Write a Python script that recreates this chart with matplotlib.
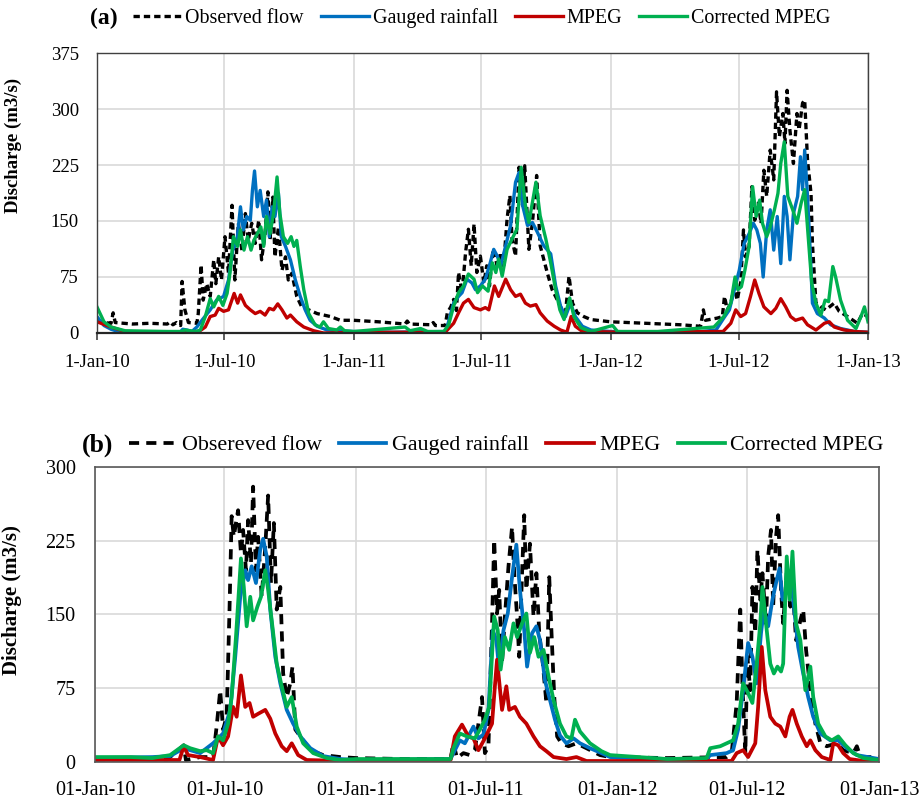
import numpy as np
import matplotlib
matplotlib.use("Agg")
import matplotlib.pyplot as plt

plt.rcParams['font.family'] = ['Liberation Serif', 'DejaVu Serif']

# ---------------- datos (dias desde 1-Jan-2010, caudal m3/s) ----------------
inicio = np.datetime64('2010-01-01')

# Panel (a)
obs_a_dia = [0, 10, 20, 23, 26, 50, 75, 100, 104, 108,
             113, 119, 121, 125, 130, 142, 144, 148, 151, 156,
             161, 166, 169, 173, 177, 182, 187, 192, 196, 201,
             206, 211, 215, 220, 225, 230, 234, 239, 243, 246,
             250, 253, 258, 263, 268, 272, 277, 284, 291, 301,
             313, 332, 346, 365, 400, 438, 441, 444, 476, 478,
             481, 495, 498, 503, 507, 511, 514, 519, 524, 528,
             532, 536, 540, 545, 550, 554, 558, 563, 569, 574,
             578, 583, 587, 590, 595, 600, 605, 608, 614, 619,
             625, 630, 635, 640, 647, 654, 661, 666, 671, 676,
             683, 692, 702, 730, 780, 830, 858, 862, 865, 882,
             889, 892, 896, 901, 906, 910, 915, 919, 922, 927,
             931, 935, 940, 944, 948, 952, 957, 962, 966, 970,
             975, 978, 981, 985, 990, 995, 998, 1003, 1006, 1010,
             1015, 1017, 1022, 1029, 1036, 1048, 1055, 1067, 1081, 1088,
             1096]
obs_a = [17, 14, 13, 27, 14, 12, 13, 12, 15, 11,
         14, 10, 69, 31, 14, 13, 26, 91, 44, 66,
         49, 98, 66, 102, 71, 129, 80, 171, 71, 147,
         111, 160, 124, 147, 120, 151, 98, 133, 189, 124,
         182, 102, 142, 84, 102, 71, 80, 49, 35, 31,
         26, 22, 17, 17, 15, 12, 16, 12, 11, 14,
         10, 10, 27, 35, 45, 30, 81, 54, 108, 139,
         90, 146, 81, 103, 67, 90, 63, 112, 90, 108,
         90, 153, 184, 126, 103, 222, 171, 224, 112, 148,
         211, 117, 99, 81, 58, 45, 31, 27, 76, 40,
         27, 22, 18, 15, 13, 11, 9, 31, 17, 20,
         22, 49, 31, 40, 62, 44, 67, 138, 102, 116,
         196, 151, 174, 147, 218, 183, 245, 205, 323, 263,
         294, 254, 325, 272, 227, 294, 272, 308, 312, 232,
         187, 120, 40, 35, 31, 40, 29, 22, 13, 26,
         22]

gauged_a_dia = [0, 10, 20, 30, 60, 118, 122, 128, 135, 142,
                150, 161, 170, 180, 187, 193, 199, 204, 208, 213,
                218, 221, 224, 228, 232, 237, 241, 245, 249, 253,
                258, 262, 268, 275, 282, 289, 296, 303, 313, 327,
                345, 365, 420, 495, 498, 507, 514, 519, 526, 533,
                538, 545, 552, 559, 564, 569, 574, 581, 588, 595,
                600, 605, 612, 619, 626, 635, 645, 652, 659, 666,
                673, 680, 690, 702, 730, 800, 860, 880, 891, 899,
                906, 913, 920, 927, 933, 938, 943, 947, 952, 957,
                962, 967, 972, 977, 981, 985, 990, 996, 1000, 1003,
                1006, 1010, 1014, 1017, 1024, 1034, 1043, 1057, 1077, 1096]
gauged_a = [22, 10, 5, 2, 1, 1, 5, 4, 2, 8,
            18, 31, 44, 49, 71, 111, 124, 169, 138, 156,
            151, 191, 217, 169, 191, 156, 178, 129, 169, 156,
            187, 129, 116, 98, 71, 49, 31, 17, 9, 4,
            3, 2, 1, 2, 9, 40, 49, 54, 72, 67,
            58, 63, 72, 94, 112, 103, 90, 117, 144, 202,
            215, 171, 144, 148, 135, 117, 106, 63, 36, 22,
            40, 22, 9, 4, 2, 1, 2, 4, 20, 31,
            58, 84, 120, 133, 147, 138, 120, 75, 138, 165,
            111, 156, 93, 183, 156, 98, 160, 183, 236, 192,
            245, 183, 107, 40, 26, 20, 11, 6, 2, 1]

mpeg_a_dia = [0, 20, 40, 100, 142, 154, 161, 168, 173, 180,
              187, 195, 200, 204, 211, 218, 225, 232, 239, 245,
              251, 257, 263, 270, 275, 284, 294, 308, 322, 400,
              495, 507, 514, 521, 528, 536, 545, 552, 557, 565,
              571, 581, 588, 595, 602, 609, 616, 624, 630, 640,
              650, 659, 668, 674, 680, 690, 750, 890, 901, 908,
              915, 922, 929, 935, 941, 948, 958, 965, 972, 979,
              986, 993, 1003, 1010, 1022, 1034, 1041, 1048, 1062, 1077,
              1096]
mpeg_a = [15, 8, 2, 1, 0, 8, 22, 24, 33, 29,
          31, 53, 40, 51, 37, 31, 26, 29, 24, 33,
          31, 39, 31, 20, 24, 15, 8, 3, 0, 1,
          1, 13, 27, 40, 45, 34, 31, 34, 31, 63,
          49, 72, 58, 49, 52, 40, 36, 38, 27, 16,
          9, 4, 1, 22, 9, 2, 1, 2, 13, 31,
          22, 26, 49, 71, 53, 35, 26, 33, 46, 35,
          22, 17, 20, 11, 4, 13, 15, 8, 4, 2,
          1]

corr_a_dia = [0, 10, 20, 40, 100, 120, 125, 140, 147, 154,
              161, 166, 173, 179, 185, 189, 194, 200, 204, 209,
              214, 219, 223, 228, 233, 237, 241, 246, 251, 256,
              260, 265, 271, 276, 280, 284, 289, 294, 301, 310,
              317, 322, 329, 341, 346, 352, 365, 438, 445, 460,
              470, 493, 500, 507, 514, 521, 528, 536, 541, 548,
              556, 562, 567, 571, 576, 583, 590, 597, 603, 609,
              614, 624, 630, 638, 645, 652, 658, 664, 672, 678,
              688, 702, 733, 740, 797, 877, 891, 901, 907, 911,
              916, 921, 927, 932, 937, 942, 946, 952, 957, 963,
              968, 972, 977, 982, 989, 995, 1001, 1006, 1011, 1016,
              1022, 1029, 1035, 1040, 1046, 1050, 1057, 1067, 1079, 1086,
              1091, 1096]
corr_a = [35, 15, 8, 3, 2, 2, 4, 2, 4, 22,
          46, 35, 49, 37, 53, 80, 129, 116, 138, 111,
          129, 111, 124, 133, 142, 116, 156, 133, 160, 209,
          160, 129, 120, 129, 116, 124, 89, 58, 26, 11,
          8, 15, 6, 4, 8, 3, 2, 8, 3, 6,
          2, 2, 11, 36, 54, 63, 79, 72, 54, 63,
          56, 94, 81, 99, 76, 112, 126, 139, 222, 171,
          148, 202, 157, 126, 94, 58, 31, 18, 47, 22,
          7, 2, 10, 2, 2, 8, 22, 40, 75, 58,
          62, 84, 116, 196, 156, 178, 147, 129, 142, 165,
          187, 227, 256, 183, 165, 147, 174, 192, 129, 67,
          40, 24, 44, 42, 89, 75, 44, 17, 6, 22,
          35, 15]

# Panel (b)
obs_b_dia = [0, 60, 100, 124, 127, 147, 165, 170, 175, 179,
             184, 188, 191, 194, 197, 200, 204, 207, 211, 214,
             218, 221, 225, 228, 233, 238, 242, 246, 250, 254,
             259, 263, 268, 273, 276, 280, 287, 301, 319, 343,
             365, 430, 497, 501, 506, 515, 524, 531, 541, 545,
             550, 555, 558, 562, 565, 569, 573, 578, 583, 586,
             590, 593, 597, 600, 603, 608, 613, 617, 621, 626,
             631, 635, 638, 642, 646, 652, 662, 673, 687, 706,
             720, 800, 883, 890, 897, 902, 905, 909, 912, 916,
             919, 923, 926, 930, 933, 938, 941, 945, 948, 952,
             955, 959, 962, 967, 972, 975, 980, 986, 990, 994,
             1000, 1007, 1014, 1023, 1037, 1046, 1060, 1065, 1070, 1096]
obs_b = [2, 3, 2, 17, 2, 5, 5, 36, 73, 33,
         46, 155, 250, 229, 243, 256, 212, 236, 195, 246,
         202, 280, 195, 229, 168, 219, 271, 182, 243, 155,
         178, 90, 66, 80, 97, 33, 26, 12, 7, 5,
         4, 3, 3, 19, 4, 9, 7, 12, 66, 9,
         16, 141, 226, 151, 175, 100, 148, 199, 239, 192,
         148, 107, 192, 251, 175, 222, 148, 192, 131, 100,
         60, 188, 134, 66, 26, 19, 16, 19, 14, 7,
         5, 4, 5, 9, 60, 155, 80, 9, 107, 73,
         178, 131, 216, 165, 192, 141, 209, 236, 158, 229,
         251, 175, 141, 192, 158, 182, 124, 144, 155, 114,
         73, 39, 19, 16, 19, 12, 9, 16, 5, 5]

gauged_b_dia = [0, 80, 105, 124, 147, 165, 179, 189, 196, 203,
                210, 214, 219, 225, 231, 235, 240, 245, 252, 259,
                268, 277, 287, 301, 319, 343, 365, 497, 501, 510,
                517, 529, 536, 543, 550, 556, 561, 565, 571, 577,
                583, 589, 594, 600, 604, 611, 617, 622, 629, 636,
                643, 650, 659, 669, 678, 692, 708, 720, 800, 855,
                860, 883, 892, 899, 906, 913, 919, 925, 931, 935,
                941, 947, 952, 957, 961, 967, 973, 977, 983, 990,
                997, 1004, 1014, 1028, 1039, 1051, 1065, 1096]
gauged_b = [4, 5, 6, 14, 9, 19, 29, 53, 107, 168,
            195, 185, 199, 182, 216, 227, 209, 155, 107, 80,
            53, 39, 26, 14, 6, 3, 2, 3, 9, 22,
            19, 36, 24, 28, 53, 134, 124, 94, 134, 151,
            188, 221, 175, 134, 97, 131, 138, 124, 83, 63,
            43, 27, 19, 24, 19, 14, 9, 5, 3, 3,
            7, 9, 12, 33, 73, 121, 107, 80, 131, 155,
            138, 165, 182, 197, 165, 175, 185, 158, 117, 90,
            66, 46, 29, 22, 22, 14, 7, 3]

mpeg_b_dia = [0, 118, 124, 130, 147, 165, 172, 179, 186, 193,
              198, 204, 210, 216, 221, 228, 238, 245, 252, 261,
              268, 275, 284, 296, 350, 497, 503, 513, 522, 529,
              536, 545, 555, 559, 562, 569, 575, 579, 587, 594,
              603, 613, 622, 631, 641, 659, 673, 687, 890, 897,
              906, 913, 923, 927, 932, 937, 944, 951, 958, 965,
              971, 975, 981, 988, 995, 1000, 1007, 1016, 1028, 1032,
              1039, 1046, 1055, 1074, 1096]
mpeg_b = [2, 2, 16, 7, 5, 2, 26, 17, 26, 56,
          46, 88, 56, 60, 46, 49, 53, 44, 29, 16,
          11, 19, 7, 2, 1, 2, 26, 38, 26, 24,
          12, 24, 39, 77, 104, 53, 77, 53, 56, 46,
          39, 26, 16, 11, 5, 3, 5, 1, 1, 9,
          12, 5, 19, 56, 117, 73, 46, 39, 36, 26,
          46, 53, 39, 26, 16, 22, 12, 5, 2, 19,
          17, 9, 3, 1, 1]

corr_b_dia = [0, 50, 80, 105, 124, 133, 147, 156, 165, 172,
              179, 186, 191, 197, 204, 208, 212, 217, 221, 227,
              232, 238, 242, 247, 254, 261, 268, 275, 282, 291,
              305, 324, 343, 365, 497, 501, 510, 520, 531, 538,
              545, 551, 558, 563, 567, 573, 579, 585, 590, 597,
              603, 608, 614, 620, 627, 634, 641, 650, 659, 666,
              671, 678, 692, 708, 720, 800, 855, 860, 874, 883,
              892, 899, 906, 913, 919, 925, 930, 933, 938, 944,
              949, 954, 959, 962, 967, 971, 975, 980, 986, 993,
              1000, 1004, 1011, 1021, 1030, 1039, 1049, 1060, 1074, 1096]
corr_b = [5, 5, 4, 7, 17, 14, 11, 12, 9, 26,
          22, 39, 66, 127, 207, 178, 138, 168, 144, 158,
          168, 195, 175, 144, 100, 77, 56, 66, 36, 19,
          9, 4, 2, 3, 3, 14, 29, 26, 24, 33,
          43, 56, 148, 134, 94, 127, 114, 141, 127, 141,
          151, 111, 127, 107, 114, 87, 63, 39, 26, 24,
          43, 31, 19, 11, 7, 3, 4, 14, 16, 19,
          22, 39, 80, 70, 60, 100, 141, 178, 141, 100,
          90, 97, 92, 100, 209, 165, 214, 141, 124, 73,
          97, 66, 39, 26, 22, 26, 17, 9, 4, 2]

fechas_tick = ['2010-01-01', '2010-07-01', '2011-01-01', '2011-07-01',
               '2012-01-01', '2012-07-01', '2013-01-01']
etiquetas_a = ['1-Jan-10', '1-Jul-10', '1-Jan-11', '1-Jul-11',
               '1-Jan-12', '1-Jul-12', '1-Jan-13']
etiquetas_b = ['01-Jan-10', '01-Jul-10', '01-Jan-11', '01-Jul-11',
               '01-Jan-12', '01-Jul-12', '01-Jan-13']

nombres_a = ['Observed flow', 'Gauged rainfall', 'MPEG', 'Corrected MPEG']
nombres_b = ['Obsereved flow', 'Gauged rainfall', 'MPEG', 'Corrected MPEG']

AZUL = '#0070C0'
ROJO = '#C00000'
VERDE = '#00B050'
GRIS = '#D9D9D9'


def fechas(dias):
    return inicio + np.array(dias).astype('timedelta64[D]')


def panel(ax, series, nombres, etiquetas, ymax, lw, guiones, fs_tick):
    colores = ['black', AZUL, ROJO, VERDE]
    lineas = []
    for (d, v), c, n in zip(series, colores, nombres):
        l, = ax.plot(fechas(d), v, color=c, lw=lw, label=n,
                     solid_joinstyle='round', dash_joinstyle='round')
        lineas.append(l)
    lineas[0].set_dashes(guiones)

    ax.set_xlim(inicio, np.datetime64('2013-01-01'))
    ax.set_ylim(0, ymax)
    ax.set_yticks(np.arange(0, ymax + 1, 75))
    ax.set_xticks(np.array(fechas_tick, dtype='datetime64[D]'))
    ax.set_xticklabels(etiquetas)
    ax.grid(True, color=GRIS, lw=1.2)
    ax.set_axisbelow(True)
    ax.tick_params(axis='y', length=0, pad=13, labelsize=fs_tick)
    for s in ['top', 'right', 'left']:
        ax.spines[s].set_color('#404040')
        ax.spines[s].set_linewidth(1.0)
    ax.spines['bottom'].set_color('#262626')
    ax.spines['bottom'].set_linewidth(1.6)
    return lineas


fig = plt.figure(figsize=(9.19, 8.02), dpi=100)

# --------- (a) ---------
ax1 = fig.add_axes([0.1055, 0.5848, 0.8390, 0.3491])
l1 = panel(ax1, [(obs_a_dia, obs_a), (gauged_a_dia, gauged_a),
                 (mpeg_a_dia, mpeg_a), (corr_a_dia, corr_a)],
           nombres_a, etiquetas_a, 375, 2.4, (1.9, 1.2), 13.5)
ax1.tick_params(axis='x', length=5, width=1.2, direction='out', pad=10,
                labelsize=13.5, color='#404040')
ax1.set_ylabel('Discharge (m3/s)', fontsize=13.5, fontweight='bold')
ax1.yaxis.set_label_coords(-0.097, 0.67)
fig.text(90 / 919, 1 - 18 / 802, '(a)', fontsize=17, fontweight='bold',
         va='center', ha='left')
fig.legend(handles=l1, loc='center left', bbox_to_anchor=(133 / 919, 1 - 18 / 802),
           ncol=4, frameon=False, fontsize=14.4, handlelength=2.4,
           handletextpad=0.2, columnspacing=0.85, borderpad=0, borderaxespad=0)

# --------- (b) ---------
ax2 = fig.add_axes([0.1034, 0.0499, 0.8531, 0.3678])
l2 = panel(ax2, [(obs_b_dia, obs_b), (gauged_b_dia, gauged_b),
                 (mpeg_b_dia, mpeg_b), (corr_b_dia, corr_b)],
           nombres_b, etiquetas_b, 300, 2.7, (2.7, 1.9), 14.5)
ax2.tick_params(axis='x', length=0, pad=14, labelsize=14.5)
ax2.tick_params(axis='y', labelsize=14.5, pad=14)
ax2.set_ylabel('Discharge (m3/s)', fontsize=15, fontweight='bold')
ax2.yaxis.set_label_coords(-0.093, 0.55)
for s in ['top', 'right', 'left', 'bottom']:
    ax2.spines[s].set_color('#595959')
    ax2.spines[s].set_linewidth(1.2)
fig.text(82 / 919, 1 - 445 / 802, '(b)', fontsize=18.5, fontweight='bold',
         va='center', ha='left')
fig.legend(handles=l2, loc='center left', bbox_to_anchor=(129 / 919, 1 - 445 / 802),
           ncol=4, frameon=False, fontsize=15.8, handlelength=2.15,
           handletextpad=0.25, columnspacing=0.8, borderpad=0, borderaxespad=0)

fig.savefig('out.png', dpi=100)
